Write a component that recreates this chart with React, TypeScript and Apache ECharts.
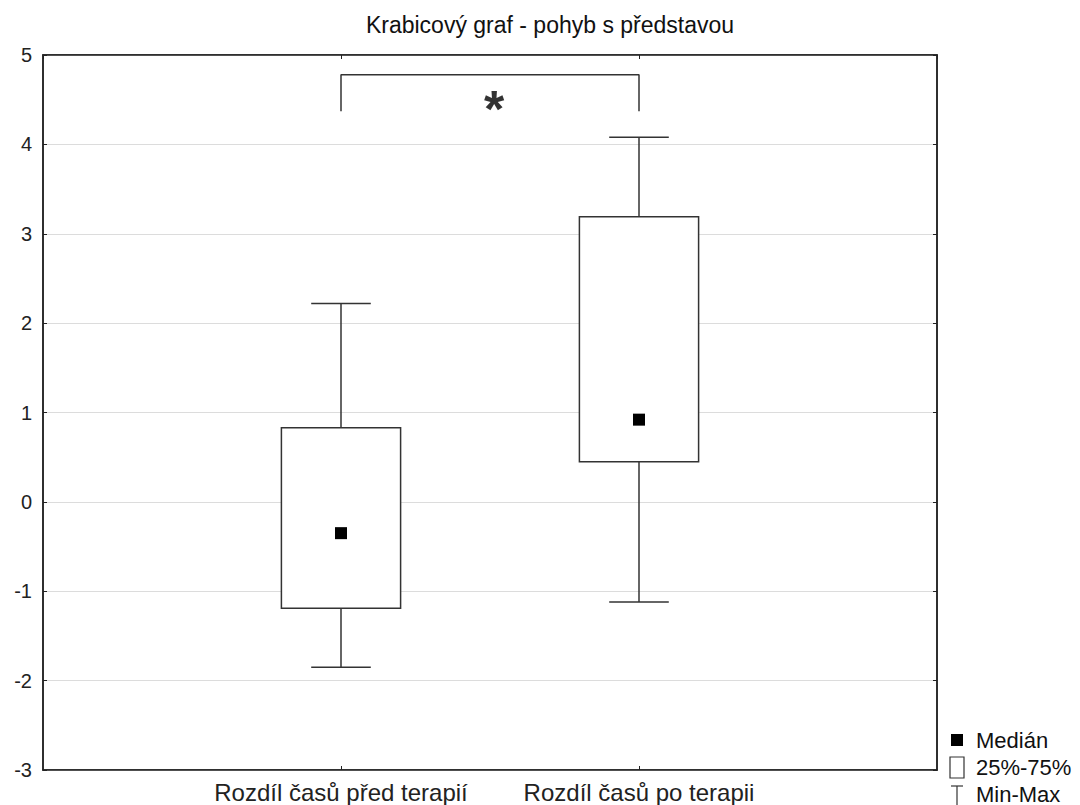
import React, { useEffect, useRef } from "react";
import * as echarts from "echarts";

const titleText = "Krabicový graf - pohyb s představou";
const categories = ["Rozdíl časů před terapií", "Rozdíl časů po terapii"];
const categoryPositions = [1, 2];
const minValues = [-1.85, -1.12];
const q1Values = [-1.19, 0.45];
const medianValues = [-0.35, 0.92];
const q3Values = [0.83, 3.19];
const maxValues = [2.22, 4.08];
const bracketValues = { low: 4.37, high: 4.78 };
const significanceMark = "*";
const legendLabels = ["Medián", "25%-75%", "Min-Max"];

const FONT = "'Liberation Sans', Arial, sans-serif";
const INK = "#333";

export default function App() {
  const ref = useRef<HTMLDivElement>(null);

  useEffect(() => {
    if (!ref.current) return;
    const chart = echarts.init(ref.current, undefined, { renderer: "svg" });

    const boxData = categoryPositions.map((x, i) => [
      x,
      minValues[i],
      q1Values[i],
      medianValues[i],
      q3Values[i],
      maxValues[i],
    ]);
    const medianData = categoryPositions.map((x, i) => [x, medianValues[i]]);
    const bracketData = [
      [categoryPositions[0], bracketValues.low],
      [categoryPositions[0], bracketValues.high],
      [categoryPositions[1], bracketValues.high],
      [categoryPositions[1], bracketValues.low],
    ];
    const starData = [
      [
        (categoryPositions[0] + categoryPositions[1]) / 2,
        (bracketValues.low + bracketValues.high) / 2,
      ],
    ];

    const legendText = (text: string, y: number) => ({
      type: "text",
      x: 976,
      y,
      style: {
        text,
        fontSize: 22,
        fontFamily: FONT,
        fill: "#111",
        textVerticalAlign: "middle",
        verticalAlign: "middle",
      },
    });

    const axisCommon = {
      axisLine: { show: true, onZero: false, lineStyle: { color: "#222", width: 1.5 } },
      axisTick: { show: true, inside: true, length: 4, lineStyle: { color: "#222" } },
    };

    const option: any = {
      animation: false,
      backgroundColor: "#fff",
      textStyle: { fontFamily: FONT },
      grid: {
        left: 43,
        right: 143,
        top: 55,
        bottom: 35,
        show: true,
        borderColor: "#222",
        borderWidth: 1.5,
        backgroundColor: "transparent",
      },
      xAxis: [
        {
          type: "value",
          min: 0,
          max: 3,
          interval: 1,
          position: "bottom",
          ...axisCommon,
          splitLine: { show: false },
          axisLabel: {
            fontSize: 24,
            color: "#222",
            fontFamily: FONT,
            margin: 10,
            showMinLabel: false,
            showMaxLabel: false,
            formatter: (v: number) => {
              const idx = categoryPositions.indexOf(v);
              return idx >= 0 ? categories[idx] : "";
            },
          },
        },
        {
          type: "value",
          min: 0,
          max: 3,
          interval: 1,
          position: "top",
          ...axisCommon,
          splitLine: { show: false },
          axisLabel: { show: false },
        },
      ],
      yAxis: [
        {
          type: "value",
          min: -3,
          max: 5,
          interval: 1,
          position: "left",
          ...axisCommon,
          splitLine: { show: true, lineStyle: { color: "#dcdcdc", width: 1 } },
          axisLabel: { fontSize: 20, color: "#222", fontFamily: FONT, margin: 11 },
        },
        {
          type: "value",
          min: -3,
          max: 5,
          interval: 1,
          position: "right",
          ...axisCommon,
          splitLine: { show: false },
          axisLabel: { show: false },
        },
      ],
      graphic: [
        {
          type: "text",
          x: 550,
          y: 25,
          style: {
            text: titleText,
            fontSize: 23,
            fontFamily: FONT,
            fill: "#111",
            textAlign: "center",
            align: "center",
            textVerticalAlign: "middle",
            verticalAlign: "middle",
          },
        },
        // legend: median
        { type: "rect", shape: { x: 951, y: 734, width: 12, height: 12 }, style: { fill: "#000" } },
        legendText(legendLabels[0], 740),
        // legend: box
        {
          type: "rect",
          shape: { x: 950, y: 757, width: 14, height: 21 },
          style: { fill: "#fff", stroke: INK, lineWidth: 1.2 },
        },
        legendText(legendLabels[1], 767),
        // legend: whisker
        { type: "line", shape: { x1: 951, y1: 786, x2: 963, y2: 786 }, style: { stroke: INK, lineWidth: 1.2 } },
        { type: "line", shape: { x1: 957, y1: 786, x2: 957, y2: 805 }, style: { stroke: INK, lineWidth: 1.2 } },
        legendText(legendLabels[2], 794),
      ],
      series: [
        {
          type: "custom",
          xAxisIndex: 0,
          yAxisIndex: 0,
          data: boxData,
          z: 3,
          renderItem: (params: any, api: any) => {
            const x = api.value(0);
            const vMin = api.value(1);
            const vQ1 = api.value(2);
            const vQ3 = api.value(4);
            const vMax = api.value(5);
            const boxW = api.size([0.4, 0])[0];
            const capW = api.size([0.2, 0])[0];
            const pMin = api.coord([x, vMin]);
            const pQ1 = api.coord([x, vQ1]);
            const pQ3 = api.coord([x, vQ3]);
            const pMax = api.coord([x, vMax]);
            const cx = pMin[0];
            const ls = { stroke: INK, lineWidth: 1.5 };
            return {
              type: "group",
              children: [
                { type: "line", shape: { x1: cx, y1: pMax[1], x2: cx, y2: pQ3[1] }, style: ls },
                { type: "line", shape: { x1: cx, y1: pQ1[1], x2: cx, y2: pMin[1] }, style: ls },
                { type: "line", shape: { x1: cx - capW / 2, y1: pMax[1], x2: cx + capW / 2, y2: pMax[1] }, style: ls },
                { type: "line", shape: { x1: cx - capW / 2, y1: pMin[1], x2: cx + capW / 2, y2: pMin[1] }, style: ls },
                {
                  type: "rect",
                  shape: { x: cx - boxW / 2, y: pQ3[1], width: boxW, height: pQ1[1] - pQ3[1] },
                  style: { fill: "#fff", stroke: INK, lineWidth: 1.5 },
                },
              ],
            };
          },
        },
        {
          type: "scatter",
          xAxisIndex: 0,
          yAxisIndex: 0,
          data: medianData,
          symbol: "rect",
          symbolSize: 12,
          itemStyle: { color: "#000", opacity: 1 },
          z: 5,
        },
        {
          type: "line",
          xAxisIndex: 0,
          yAxisIndex: 0,
          data: bracketData,
          showSymbol: false,
          symbol: "none",
          lineStyle: { color: INK, width: 1.5 },
          z: 4,
        },
        {
          type: "scatter",
          xAxisIndex: 0,
          yAxisIndex: 0,
          data: starData,
          symbolSize: 0,
          label: {
            show: true,
            position: "inside",
            formatter: significanceMark,
            fontSize: 52,
            fontWeight: "bold",
            color: "#000",
            fontFamily: FONT,
            offset: [4, 16],
          },
          z: 4,
        },
      ],
    };

    chart.setOption(option);
    return () => chart.dispose();
  }, []);

  return (
    <div
      ref={ref}
      style={{ position: "fixed", left: 0, top: 0, width: 1080, height: 805, background: "#fff" }}
    />
  );
}
